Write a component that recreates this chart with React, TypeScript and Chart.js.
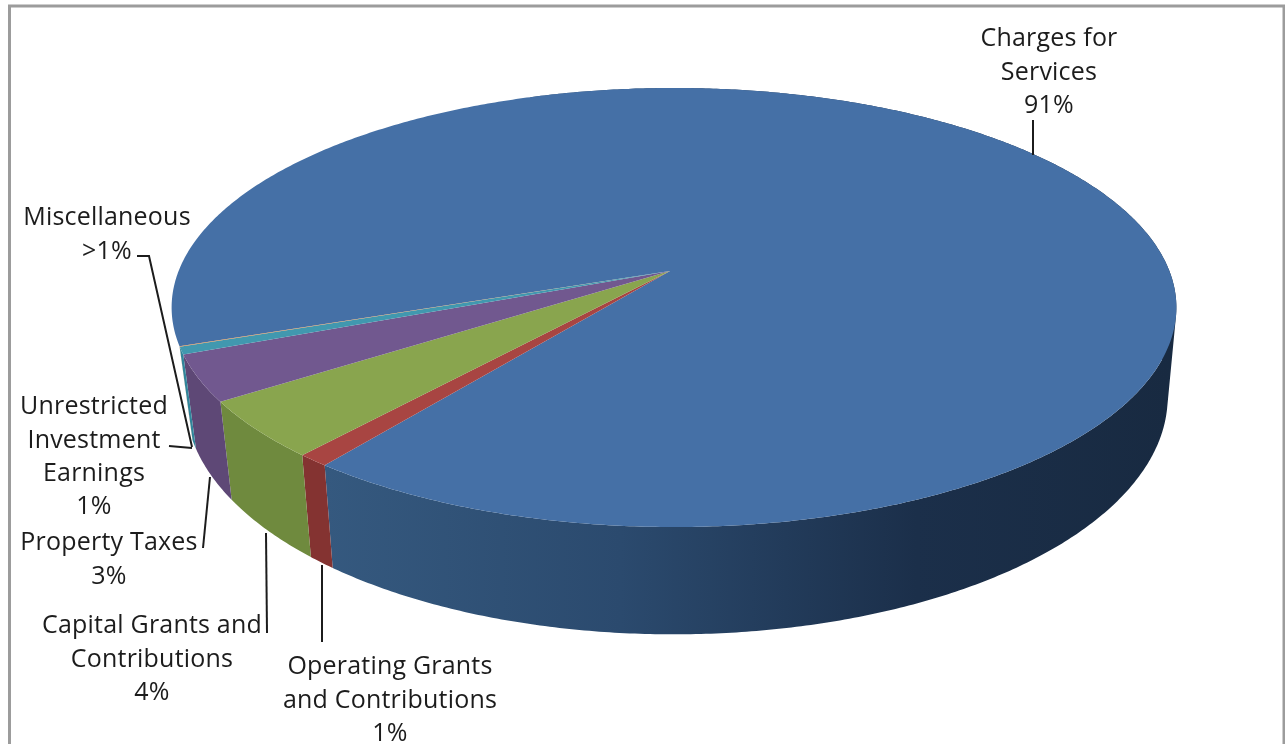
import React, { useEffect, useRef } from "react";
import { Chart, registerables } from "chart.js";

Chart.register(...registerables);

// Shares of revenue by source, in slice order.
const categories = [
  "Charges for Services",
  "Operating Grants and Contributions",
  "Capital Grants and Contributions",
  "Property Taxes",
  "Unrestricted Investment Earnings",
  "Miscellaneous",
];
const shares = [90.9, 0.9, 4.2, 3.4, 0.55, 0.03];
const topColors = ["#4570A6", "#A84542", "#89A54E", "#71588F", "#4198AF", "#DB843D"];
const wallColors = ["#2c4a6f", "#843331", "#6F8A3E", "#5E4876", "#30859B", "#B06A30"];

// Each label's lines, centred on the anchor listed alongside it.
const labelLines = [
  ["Charges for", "Services", "91%"],
  ["Operating Grants", "and Contributions", "1%"],
  ["Capital Grants and", "Contributions", "4%"],
  ["Property Taxes", "3%"],
  ["Unrestricted", "Investment", "Earnings", "1%"],
  ["Miscellaneous", ">1%"],
];
const labelAnchors = [
  [1049, 39],
  [390, 667],
  [152, 626],
  [109, 543],
  [94, 407],
  [107, 218],
];
const leaderLines = [
  [[1033, 120], [1033, 155]],
  [[322, 565], [322, 642]],
  [[266, 533], [267, 633]],
  [[210, 477], [203, 548]],
  [[169, 446], [192, 448]],
  [[137, 256], [149, 256], [192, 447]],
];

// Perspective of the disc: the near edge is enlarged by the shared denominator.
const PERSPECTIVE = -0.1708;
const project = (angle: number, lid: boolean) => {
  const u = Math.cos(angle);
  const v = Math.sin(angle);
  const d = 1 + PERSPECTIVE * v;
  return lid
    ? [674 + (495 * u) / d, (167 * v + 270) / d]
    : [677 + (484 * u - 3 * v) / d, (168 * v + 358) / d];
};
const APEX = [670, 271];
const STEP = Math.PI / 360;

const rimPoints = (start: number, end: number, lid: boolean) => {
  const pts: number[][] = [];
  for (let a = start; a < end; a += STEP) pts.push(project(a, lid));
  pts.push(project(end, lid));
  return pts;
};

const addPolygon = (ctx: CanvasRenderingContext2D, pts: number[][]) => {
  pts.forEach(([x, y], i) => (i ? ctx.lineTo(x, y) : ctx.moveTo(x, y)));
  ctx.closePath();
};

const signedArea = (pts: number[][]) =>
  pts.reduce((sum, [x, y], i) => {
    const [nx, ny] = pts[(i + 1) % pts.length];
    return sum + x * ny - nx * y;
  }, 0);

// Replaces the flat arcs with a tilted disc built from the angles the pie controller computed.
const tiltedPie = {
  id: "tiltedPie",
  beforeDatasetsDraw(chart: Chart) {
    const ctx = chart.ctx;
    const arcs = chart.getDatasetMeta(0).data as any[];

    arcs.forEach((arc, i) => {
      // The first slice's wall only shows from the right-hand silhouette round to the front.
      const start = i === 0 ? arc.startAngle + Math.PI / 2 : arc.startAngle;
      const upper = rimPoints(start, arc.endAngle, true);
      const lower = rimPoints(start, arc.endAngle, false);
      let fill: string | CanvasGradient = wallColors[i];
      if (i === 0) {
        const g = ctx.createLinearGradient(325, 0, 1170, 0);
        g.addColorStop(0, "#35597F");
        g.addColorStop(0.35, "#2B4A6E");
        g.addColorStop(0.7, "#1B2F4A");
        g.addColorStop(1, "#182A41");
        fill = g;
      }
      ctx.fillStyle = fill;
      // The wall folds over at the silhouette: facets wound the same way fill as one union.
      ctx.beginPath();
      for (let n = 0; n + 1 < upper.length; n++) {
        const facet = [upper[n], upper[n + 1], lower[n + 1], lower[n]];
        addPolygon(ctx, signedArea(facet) < 0 ? facet.reverse() : facet);
      }
      ctx.fill("nonzero");
    });

    arcs.forEach((arc, i) => {
      ctx.fillStyle = topColors[i];
      ctx.beginPath();
      addPolygon(ctx, [APEX, ...rimPoints(arc.startAngle, arc.endAngle, true)]);
      ctx.fill();
    });
    return false;
  },
  afterDraw(chart: Chart) {
    const ctx = chart.ctx;
    ctx.save();

    // Chart frame, running off the bottom of the page.
    ctx.strokeStyle = "#9C9C9C";
    ctx.lineWidth = 3;
    ctx.strokeRect(9.5, 6, 1274.5, 760);

    ctx.strokeStyle = "#1c1c1c";
    ctx.lineWidth = 2;
    leaderLines.forEach((line) => {
      ctx.beginPath();
      line.forEach(([x, y], i) => (i ? ctx.lineTo(x, y) : ctx.moveTo(x, y)));
      ctx.stroke();
    });

    ctx.fillStyle = "#1c1c1c";
    ctx.font = '25px "Open Sans", Lato, sans-serif';
    (ctx as any).letterSpacing = "0.2px";
    ctx.textAlign = "center";
    ctx.textBaseline = "middle";
    labelLines.forEach((lines, i) => {
      const [x, y] = labelAnchors[i];
      lines.forEach((text, n) => ctx.fillText(text, x, y + n * 33.4));
    });
    ctx.restore();
  },
};

export default function App() {
  const ref = useRef<HTMLCanvasElement>(null);
  useEffect(() => {
    document.body.style.background = "#fff";
    const chart = new Chart(ref.current!, {
      type: "pie",
      data: {
        labels: categories,
        datasets: [{ data: shares, backgroundColor: topColors, borderWidth: 0 }],
      },
      options: {
        animation: false,
        responsive: false,
        rotation: 250.3,
        plugins: { legend: { display: false }, tooltip: { enabled: false } },
      },
      plugins: [tiltedPie],
    });
    return () => chart.destroy();
  }, []);
  return (
    <canvas
      ref={ref}
      width={1285}
      height={744}
      style={{ position: "fixed", left: 0, top: 0, width: 1285, height: 744 }}
    />
  );
}
